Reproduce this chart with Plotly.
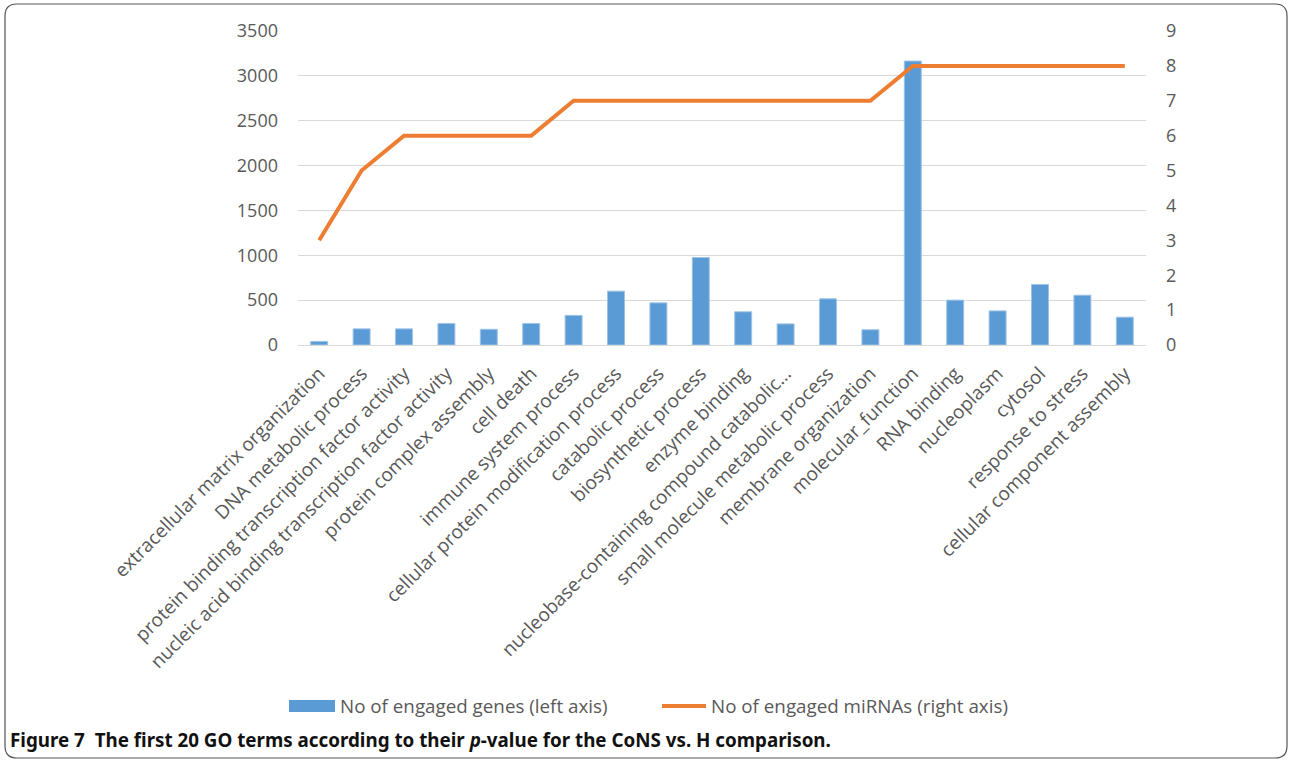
import plotly.graph_objects as go

# GO terms (first 20 by p-value), CoNS vs. H
terms = [
    "extracellular matrix organization",
    "DNA metabolic process",
    "protein binding transcription factor activity",
    "nucleic acid binding transcription factor activity",
    "protein complex assembly",
    "cell death",
    "immune system process",
    "cellular protein modification process",
    "catabolic process",
    "biosynthetic process",
    "enzyme binding",
    "nucleobase-containing compound catabolic…",
    "small molecule metabolic process",
    "membrane organization",
    "molecular_function",
    "RNA binding",
    "nucleoplasm",
    "cytosol",
    "response to stress",
    "cellular component assembly",
]
genes = [40, 180, 180, 240, 175, 240, 330, 600, 470, 975,
         370, 235, 515, 170, 3165, 500, 380, 675, 555, 310]
mirnas = [3, 5, 6, 6, 6, 6, 7, 7, 7, 7,
          7, 7, 7, 7, 8, 8, 8, 8, 8, 8]

left_ticks = [0, 500, 1000, 1500, 2000, 2500, 3000, 3500]
right_ticks = list(range(0, 10))

W, H = 1290, 761
L, R, T, B = 298, 144, 31, 416
PW, PH = W - L - R, H - T - B

BLUE = "#5B9BD5"
ORANGE = "#ED7D31"
GREY = "#595959"
FONT = "Open Sans"


def fx(px):
    return (px - L) / PW


def fy(py):
    return (H - B - py) / PH


fig = go.Figure()
fig.add_trace(go.Bar(
    x=terms, y=genes, name="No of engaged genes (left axis)",
    marker=dict(color=BLUE, line=dict(color="#9DC3E6", width=1)),
    yaxis="y",
))
fig.add_trace(go.Scatter(
    x=terms, y=mirnas, name="No of engaged miRNAs (right axis)",
    mode="lines", line=dict(color=ORANGE, width=4),
    yaxis="y2",
))

# legend drawn by hand: wide swatches like the original
shapes = [
    dict(type="rect", xref="paper", yref="paper",
         x0=fx(289), x1=fx(335), y0=fy(712), y1=fy(700),
         fillcolor=BLUE, line=dict(width=0)),
    dict(type="line", xref="paper", yref="paper",
         x0=fx(662), x1=fx(706), y0=fy(706), y1=fy(706),
         line=dict(color=ORANGE, width=4)),
]

# rounded frame around the whole figure
r = 12
x0p, x1p, y0p, y1p = 5, 1287, 4, 758
pts = [
    f"M {fx(x0p + r)} {fy(y0p)}",
    f"L {fx(x1p - r)} {fy(y0p)}",
    f"Q {fx(x1p)} {fy(y0p)} {fx(x1p)} {fy(y0p + r)}",
    f"L {fx(x1p)} {fy(y1p - r)}",
    f"Q {fx(x1p)} {fy(y1p)} {fx(x1p - r)} {fy(y1p)}",
    f"L {fx(x0p + r)} {fy(y1p)}",
    f"Q {fx(x0p)} {fy(y1p)} {fx(x0p)} {fy(y1p - r)}",
    f"L {fx(x0p)} {fy(y0p + r)}",
    f"Q {fx(x0p)} {fy(y0p)} {fx(x0p + r)} {fy(y0p)}",
    "Z",
]
shapes.append(dict(type="path", xref="paper", yref="paper", path=" ".join(pts),
                   line=dict(color="#555555", width=1.2), layer="above"))

annotations = [
    dict(text="No of engaged genes (left axis)", xref="paper", yref="paper",
         x=fx(338), y=fy(706), xanchor="left", yanchor="middle", showarrow=False,
         font=dict(family=FONT, size=18.8, color=GREY)),
    dict(text="No of engaged miRNAs (right axis)", xref="paper", yref="paper",
         x=fx(709), y=fy(706), xanchor="left", yanchor="middle", showarrow=False,
         font=dict(family=FONT, size=18.8, color=GREY)),
    dict(text="Figure 7  The first 20 GO terms according to their <i>p</i>-value for the CoNS vs. H comparison.",
         xref="paper", yref="paper", x=fx(8), y=fy(740), xanchor="left", yanchor="middle",
         showarrow=False,
         font=dict(family="Noto Sans", size=18.8, color="#111111", weight="bold")),
]

fig.update_layout(
    width=W, height=H,
    margin=dict(l=L, r=R, t=T, b=B, autoexpand=False),
    paper_bgcolor="white", plot_bgcolor="white",
    bargap=0.6,
    showlegend=False,
    shapes=shapes,
    annotations=annotations,
    xaxis=dict(
        tickangle=-45, tickfont=dict(family=FONT, size=19, color=GREY),
        showgrid=False, showline=True, linecolor="#D9D9D9", linewidth=1,
        ticks="", automargin=False, ticklabelstandoff=9,
    ),
    yaxis=dict(
        range=[0, 3500], tickvals=left_ticks,
        tickfont=dict(family=FONT, size=18, color=GREY),
        showgrid=True, gridcolor="#D9D9D9", gridwidth=1,
        zeroline=False, showline=False, ticks="", automargin=False,
        ticklabelstandoff=19,
    ),
    yaxis2=dict(
        range=[0, 9], tickvals=right_ticks, overlaying="y", side="right",
        tickfont=dict(family=FONT, size=18, color=GREY),
        showgrid=False, zeroline=False, showline=False, ticks="", automargin=False,
        ticklabelstandoff=19,
    ),
)

fig.write_html("out.html")
